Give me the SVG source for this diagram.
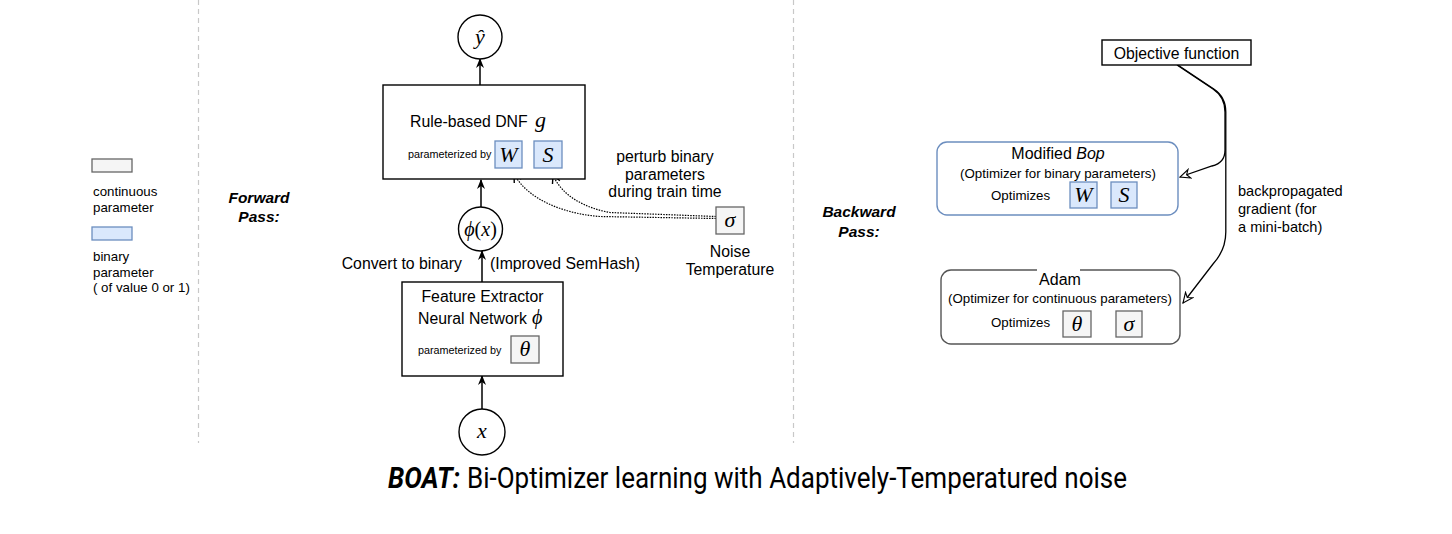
<svg xmlns="http://www.w3.org/2000/svg" width="1452" height="534" viewBox="0 0 1452 534">
<defs>
<style>
.t{font-family:"Liberation Sans",Arial,sans-serif;font-size:15.8px;fill:#000}
.s{font-family:"Liberation Sans",Arial,sans-serif;font-size:13.3px;fill:#000}
.xs{font-family:"Liberation Sans",Arial,sans-serif;font-size:10.8px;fill:#000}
.bi{font-family:"Liberation Sans",Arial,sans-serif;font-size:15.5px;font-weight:bold;font-style:italic;fill:#000}
.m{font-family:"Liberation Serif","DejaVu Serif",serif;font-style:italic;font-size:22px;fill:#000}
.c{text-anchor:middle}
.box{fill:#fff;stroke:#000;stroke-width:1.4}
.cont{fill:#f5f5f5;stroke:#666;stroke-width:1.3}
.bin{fill:#dae8fc;stroke:#6c8ebf;stroke-width:1.3}
.ln{fill:none;stroke:#000;stroke-width:1.5}
.dot{fill:none;stroke:#000;stroke-width:1.2;stroke-dasharray:1.5 1.2}
.sep{stroke:#c8c8c8;stroke-width:1.2;stroke-dasharray:5 4}
</style>
<marker id="arr" viewBox="0 0 10 10" refX="9" refY="5" markerWidth="10" markerHeight="10" markerUnits="userSpaceOnUse" orient="auto"><path d="M0,1 L10,5 L0,9 L3,5 z" fill="#000"/></marker>
<marker id="vopen" viewBox="0 0 10 10" refX="9" refY="5" markerWidth="10" markerHeight="10" markerUnits="userSpaceOnUse" orient="auto"><path d="M1,1 L9,5 L1,9" fill="none" stroke="#000" stroke-width="1.4"/></marker>
<marker id="wopen" viewBox="0 0 12 12" refX="11" refY="6" markerWidth="12" markerHeight="12" markerUnits="userSpaceOnUse" orient="auto"><path d="M1,1.5 L11,6 L1,10.5 L4,6 z" fill="#fff" stroke="#000" stroke-width="1.1"/></marker>
</defs>
<rect width="1452" height="534" fill="#fff"/>

<g id="separators">
<line class="sep" x1="198.5" y1="0" x2="198.5" y2="443"/>
<line class="sep" x1="793.5" y1="0" x2="793.5" y2="443"/>
</g>

<g id="legend">
<rect class="cont" x="92" y="159" width="40" height="13"/>
<text class="s" x="93" y="196">continuous</text>
<text class="s" x="93" y="212">parameter</text>
<rect class="bin" x="92" y="227" width="40" height="13"/>
<text class="s" x="93" y="261">binary</text>
<text class="s" x="93" y="277">parameter</text>
<text class="s" x="93" y="292">( of value 0 or 1)</text>
</g>

<g id="forward-label">
<text class="bi c" x="259" y="203">Forward</text>
<text class="bi c" x="259" y="222">Pass:</text>
</g>
<g id="backward-label">
<text class="bi c" x="859" y="217">Backward</text>
<text class="bi c" x="859" y="237">Pass:</text>
</g>

<g id="connectors">
<line class="ln" x1="480" y1="85" x2="480" y2="59" marker-end="url(#arr)"/>
<line class="ln" x1="481" y1="207" x2="481" y2="180" marker-end="url(#arr)"/>
<line class="ln" x1="482" y1="282" x2="482" y2="251" marker-end="url(#arr)"/>
<line class="ln" x1="482" y1="409" x2="482" y2="376" marker-end="url(#arr)"/>
<path class="dot" d="M716,218.5 L600,216.5 C565,214 528,200 514,174" marker-end="url(#vopen)"/>
<path class="dot" d="M716,216.5 L610,212.5 C585,208 562,196 553,175" marker-end="url(#vopen)"/>
<path fill="none" stroke="#000" stroke-width="1.3" d="M1177,65 L1213,89 Q1225,97 1225,112 L1225,150 Q1225,163 1212,166 L1180,177" marker-end="url(#wopen)"/>
<path fill="none" stroke="#000" stroke-width="1.3" d="M1177.8,65 L1213.8,89 Q1225.8,97 1225.8,112 L1225.8,232 Q1225.8,250 1213,264 L1183,303" marker-end="url(#wopen)"/>
<text class="t c" x="665" y="162">perturb binary</text>
<text class="t c" x="665" y="180">parameters</text>
<text class="t c" x="665" y="197">during train time</text>
<text class="t" x="462" y="269" text-anchor="end">Convert to binary</text>
<text class="t" x="490" y="269">(Improved SemHash)</text>
<text class="t" x="1238" y="196" style="font-size:14.6px">backpropagated</text>
<text class="t" x="1238" y="214" style="font-size:14.6px">gradient (for</text>
<text class="t" x="1238" y="232" style="font-size:14.6px">a mini-batch)</text>
</g>

<g id="yhat">
<circle class="box" cx="480" cy="37" r="22"/>
<text class="m c" x="480" y="44">ŷ</text>
</g>

<g id="dnf">
<rect class="box" x="383" y="85" width="202" height="94"/>
<text class="t" x="410" y="127">Rule-based DNF</text>
<text class="m" x="535" y="127">g</text>
<text class="xs" x="408" y="158">parameterized by</text>
<rect class="bin" x="495" y="141" width="27" height="27"/>
<text class="m c" x="508.5" y="162">W</text>
<rect class="bin" x="534" y="141" width="28" height="27"/>
<text class="m c" x="548" y="162">S</text>
</g>

<g id="phi">
<circle class="box" cx="480.5" cy="229" r="22"/>
<text class="c" x="480.5" y="236" style="font-family:'Liberation Serif','DejaVu Serif',serif;font-size:20px"><tspan font-style="italic">ϕ</tspan>(<tspan font-style="italic">x</tspan>)</text>
</g>

<g id="noise">
<rect class="cont" x="716" y="207" width="28" height="27"/>
<text class="m c" x="730" y="227">σ</text>
<text class="t c" x="730" y="257">Noise</text>
<text class="t c" x="730" y="275">Temperature</text>
</g>

<g id="feature-extractor">
<rect class="box" x="402" y="282" width="161" height="94"/>
<text class="t c" x="482.5" y="302">Feature Extractor</text>
<text class="t" x="418" y="324">Neural Network</text>
<text class="m" x="532" y="324" style="font-size:20px">ϕ</text>
<text class="xs" x="418" y="354">parameterized by</text>
<rect class="cont" x="511" y="336" width="28" height="27"/>
<text class="m c" x="525" y="356">θ</text>
</g>

<g id="x-input">
<circle class="box" cx="482" cy="432" r="23"/>
<text class="m c" x="482" y="438">x</text>
</g>

<g id="objective">
<rect class="box" x="1102" y="40" width="149" height="25"/>
<text class="t c" x="1176.5" y="58.5">Objective function</text>
</g>

<g id="bop">
<rect x="937" y="142" width="241" height="73" rx="10" fill="#fff" stroke="#6c8ebf" stroke-width="1.4"/>
<text class="t c" x="1058" y="159" style="font-size:16px">Modified <tspan font-style="italic">Bop</tspan></text>
<text class="s c" x="1058" y="178">(Optimizer for binary parameters)</text>
<text class="s" x="991" y="200">Optimizes</text>
<rect class="bin" x="1070" y="182" width="27" height="26"/>
<text class="m c" x="1083.5" y="202">W</text>
<rect class="bin" x="1111" y="182" width="26" height="26"/>
<text class="m c" x="1124" y="202">S</text>
</g>

<g id="adam">
<rect x="941" y="270" width="239" height="74" rx="10" fill="#fff" stroke="#555" stroke-width="1.4"/>
<rect x="1037" y="268" width="43" height="4" fill="#fff"/>
<text class="t c" x="1060" y="285" style="font-size:16px">Adam</text>
<text class="s c" x="1060" y="303">(Optimizer for continuous parameters)</text>
<text class="s" x="991" y="327">Optimizes</text>
<rect class="cont" x="1063" y="311" width="28" height="26"/>
<text class="m c" x="1077" y="331">θ</text>
<rect class="cont" x="1116" y="311" width="26" height="26"/>
<text class="m c" x="1129" y="331">σ</text>
</g>

<g id="title">
<text x="388" y="488" textLength="72" lengthAdjust="spacingAndGlyphs" style="font-family:Roboto,'Liberation Sans',sans-serif;font-size:29px;font-weight:bold;font-style:italic">BOAT:</text>
<text x="467" y="488" textLength="660" lengthAdjust="spacingAndGlyphs" style="font-family:Roboto,'Liberation Sans',sans-serif;font-size:29px">Bi-Optimizer learning with Adaptively-Temperatured noise</text>
</g>
</svg>
